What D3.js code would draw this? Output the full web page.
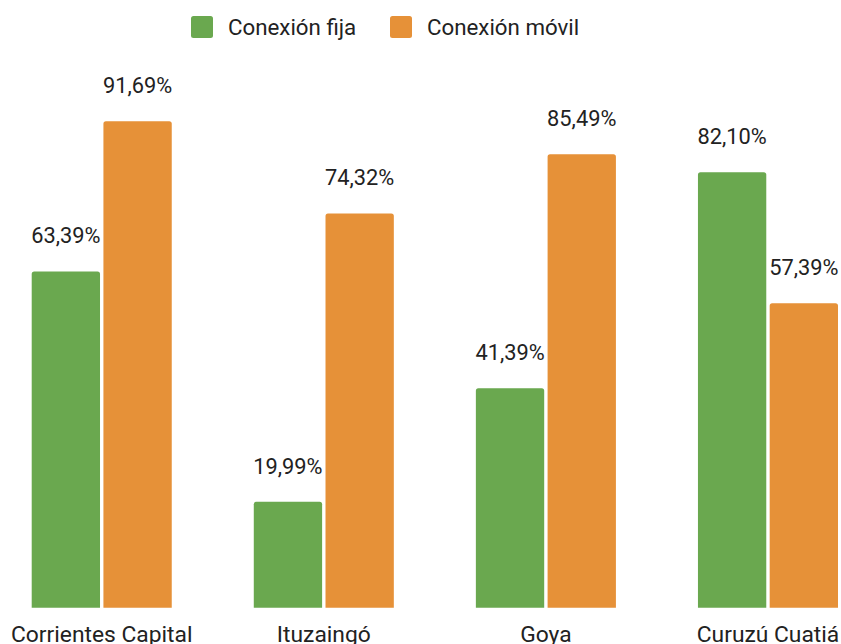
<!DOCTYPE html>
<html>
<head>
<meta charset="utf-8">
<script src="https://cdn.jsdelivr.net/npm/d3@7"></script>
<style>
  html, body { margin: 0; padding: 0; background: #ffffff; }
  svg { display: block; }
  text { font-family: Roboto, "Noto Sans", Arial, sans-serif; fill: #222222; }
</style>
</head>
<body>
<svg id="chart" width="841" height="644"></svg>
<script>
const categories = ["Corrientes Capital", "Ituzaingó", "Goya", "Curuzú Cuatiá"];
const seriesNames = ["Conexión fija", "Conexión móvil"];
const fijaValues = [63.39, 19.99, 41.39, 82.10];
const movilValues = [91.69, 74.32, 85.49, 57.39];
const seriesColors = ["#6aa84f", "#e69138"];

const fmt = v => d3.format(".2f")(v).replace(".", ",") + "%";

const svg = d3.select("#chart");

const data = categories.map((c, i) => ({
  category: c,
  values: [
    { series: seriesNames[0], value: fijaValues[i] },
    { series: seriesNames[1], value: movilValues[i] }
  ]
}));

const x0 = d3.scaleBand().domain(categories).range([31.7, 838]).paddingInner(0.3694).paddingOuter(0);
const x1 = d3.scaleBand().domain(seriesNames).range([0, x0.bandwidth()]).paddingInner(0.0474).paddingOuter(0);
const y = d3.scaleLinear().domain([0, 100]).range([607.7, 77.2]);
const color = d3.scaleOrdinal().domain(seriesNames).range(seriesColors);

function topRoundedRect(x, yTop, w, h, r) {
  r = Math.min(r, w / 2, h);
  return `M${x},${yTop + h}V${yTop + r}Q${x},${yTop} ${x + r},${yTop}H${x + w - r}Q${x + w},${yTop} ${x + w},${yTop + r}V${yTop + h}Z`;
}

const groups = svg.append("g").selectAll("g")
  .data(data).join("g")
  .attr("transform", d => `translate(${x0(d.category)},0)`);

groups.selectAll("path")
  .data(d => d.values).join("path")
  .attr("d", d => topRoundedRect(x1(d.series), y(d.value), x1.bandwidth(), y(0) - y(d.value), 2.5))
  .attr("fill", d => color(d.series));

groups.selectAll("text.val")
  .data(d => d.values).join("text")
  .attr("class", "val")
  .attr("x", d => x1(d.series) + x1.bandwidth() / 2)
  .attr("y", d => y(d.value) - 28)
  .attr("text-anchor", "middle")
  .style("font-size", "21.8px")
  .text(d => fmt(d.value));

// category axis labels
const xAxis = d3.axisBottom(x0).tickSize(0).tickPadding(0);
const axisG = svg.append("g").attr("transform", `translate(0,${y(0)})`).call(xAxis);
axisG.select(".domain").remove();
axisG.selectAll("text")
  .attr("dy", null)
  .attr("y", 34)
  .style("font-size", "22.8px")
  .style("font-family", "Roboto, 'Noto Sans', Arial, sans-serif")
  .attr("fill", "#222222");

// legend
const legendItems = [
  { name: seriesNames[0], x: 191 },
  { name: seriesNames[1], x: 390 }
];
const lg = svg.append("g").selectAll("g").data(legendItems).join("g")
  .attr("transform", d => `translate(${d.x},16)`);
lg.append("rect")
  .attr("width", 22).attr("height", 22).attr("rx", 2.5)
  .attr("fill", d => color(d.name));
lg.append("text")
  .attr("x", 37).attr("y", 18.5)
  .style("font-size", "22.3px")
  .text(d => d.name);
</script>
</body>
</html>
